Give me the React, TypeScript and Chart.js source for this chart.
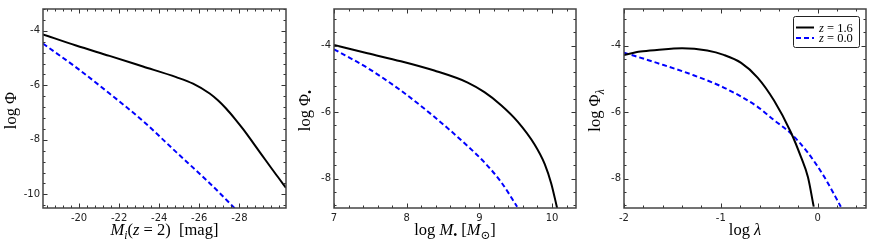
import React, { useEffect, useRef } from 'react';
import { Chart, registerables } from 'chart.js';

Chart.register(...registerables);

// ---------- Panel 1: luminosity function ----------
const magZ16 = [-18.2, -19.85, -21.52, -23.19, -24.85, -25.69, -26.52, -26.93, -27.35, -27.77, -28.19, -29.02, -29.85, -30.33];
const phiMagZ16 = [-4.13, -4.54, -4.92, -5.31, -5.7, -5.94, -6.3, -6.55, -6.86, -7.22, -7.61, -8.45, -9.29, -9.76];
const magZ00 = [-18.2, -19.85, -21.52, -23.19, -24.85, -26.52, -27.8];
const phiMagZ00 = [-4.47, -5.34, -6.3, -7.31, -8.45, -9.59, -10.53];
const p1XTicks = [-20, -22, -24, -26, -28];
const p1YTicks = [-4, -6, -8, -10];

// ---------- Panel 2: black hole mass function ----------
const massZ16 = [7.0, 7.46, 7.92, 8.38, 8.84, 9.07, 9.3, 9.53, 9.76, 9.9, 9.99, 10.07];
const phiMassZ16 = [-3.98, -4.23, -4.47, -4.75, -5.11, -5.4, -5.79, -6.29, -6.97, -7.56, -8.15, -8.88];
const massZ00 = [7.0, 7.46, 7.92, 8.38, 8.84, 9.07, 9.3, 9.52];
const phiMassZ00 = [-4.11, -4.67, -5.35, -6.14, -7.02, -7.51, -8.1, -8.84];
const p2XTicks = [7, 8, 9, 10];
const p2YTicks = [-4, -6, -8];

// ---------- Panel 3: Eddington ratio distribution ----------
const lamZ16 = [-2.0, -1.83, -1.66, -1.4, -1.14, -0.97, -0.79, -0.62, -0.45, -0.28, -0.17, -0.1, -0.04];
const phiLamZ16 = [-4.28, -4.18, -4.13, -4.08, -4.15, -4.28, -4.52, -4.96, -5.65, -6.58, -7.36, -7.95, -8.84];
const lamZ00 = [-2.0, -1.66, -1.31, -0.97, -0.62, -0.45, -0.28, -0.1, 0.07, 0.24];
const phiLamZ00 = [-4.21, -4.52, -4.86, -5.26, -5.84, -6.24, -6.63, -7.22, -7.95, -8.84];
const p3XTicks = [-2, -1, 0];
const p3YTicks = [-4, -6, -8];

const legendLabels = ['1.6', '0.0'];

type Seg = { t: string; it?: boolean; sub?: boolean };

const SERIF = '"Liberation Serif", "DejaVu Serif", serif';
const TITLE_SIZE = 16.5;

function segFont(s: Seg, size: number) {
  const sz = s.sub ? size * 0.7 : size;
  return `${s.it ? 'italic ' : ''}${sz}px ${SERIF}`;
}

function drawRich(ctx: CanvasRenderingContext2D, segs: Seg[], x: number, y: number, size: number, align: 'center' | 'left', rotate = false) {
  ctx.save();
  ctx.translate(x, y);
  if (rotate) ctx.rotate(-Math.PI / 2);
  let total = 0;
  const widths = segs.map((s) => {
    ctx.font = segFont(s, size);
    const w = ctx.measureText(s.t).width;
    total += w;
    return w;
  });
  let cx = align === 'center' ? -total / 2 : 0;
  ctx.textBaseline = 'alphabetic';
  ctx.textAlign = 'left';
  ctx.fillStyle = '#000';
  segs.forEach((s, i) => {
    ctx.font = segFont(s, size);
    ctx.fillText(s.t, cx, s.sub ? size * 0.22 : 0);
    cx += widths[i];
  });
  ctx.restore();
}

function minorValues(min: number, max: number, step: number) {
  const out: number[] = [];
  const k0 = Math.ceil(min / step - 1e-9);
  const k1 = Math.floor(max / step + 1e-9);
  for (let k = k0; k <= k1; k++) out.push(k * step);
  return out;
}

type PanelCfg = {
  left: number;
  width: number;
  yAxisWidth: number;
  padRight: number;
  xMin: number;
  xMax: number;
  reverse: boolean;
  yMin: number;
  yMax: number;
  xTicks: number[];
  yTicks: number[];
  xMinor: number;
  yMinor: number;
  solidX: number[];
  solidY: number[];
  dashX: number[];
  dashY: number[];
  xTitle: Seg[];
  yTitle: Seg[];
  yTitleX: number;
  legend: boolean;
};

const panels: PanelCfg[] = [
  {
    left: 0, width: 290, yAxisWidth: 43, padRight: 4,
    xMin: -30.33, xMax: -18.2, reverse: true, yMin: -10.5, yMax: -3.2,
    xTicks: p1XTicks, yTicks: p1YTicks, xMinor: 0.4, yMinor: 0.4,
    solidX: magZ16, solidY: phiMagZ16, dashX: magZ00, dashY: phiMagZ00,
    xTitle: [{ t: 'M', it: true }, { t: 'i', it: true, sub: true }, { t: '(' }, { t: 'z', it: true }, { t: ' = 2)' }, { t: '  [mag]' }],
    yTitle: [{ t: 'log ' }, { t: 'Φ' }],
    yTitleX: 16, legend: false,
  },
  {
    left: 290, width: 290, yAxisWidth: 44, padRight: 4,
    xMin: 7, xMax: 10.33, reverse: false, yMin: -8.88, yMax: -2.9,
    xTicks: p2XTicks, yTicks: p2YTicks, xMinor: 0.2, yMinor: 0.4,
    solidX: massZ16, solidY: phiMassZ16, dashX: massZ00, dashY: phiMassZ00,
    xTitle: [{ t: 'log ' }, { t: 'M', it: true }, { t: '•', sub: true }, { t: ' [' }, { t: 'M', it: true }, { t: '⊙', sub: true }, { t: ']' }],
    yTitle: [{ t: 'log ' }, { t: 'Φ' }, { t: '•', sub: true }],
    yTitleX: 20, legend: false,
  },
  {
    left: 580, width: 292, yAxisWidth: 44, padRight: 6,
    xMin: -2, xMax: 0.5, reverse: false, yMin: -8.88, yMax: -2.9,
    xTicks: p3XTicks, yTicks: p3YTicks, xMinor: 0.2, yMinor: 0.4,
    solidX: lamZ16, solidY: phiLamZ16, dashX: lamZ00, dashY: phiLamZ00,
    xTitle: [{ t: 'log ' }, { t: 'λ', it: true }],
    yTitle: [{ t: 'log ' }, { t: 'Φ' }, { t: 'λ', it: true, sub: true }],
    yTitleX: 20, legend: true,
  },
];

function makeDecor(p: PanelCfg) {
  return {
    id: 'decor',
    afterDraw(chart: any) {
      const { ctx, chartArea: a, scales } = chart;
      const xs = scales.x;
      const ys = scales.y;
      ctx.save();
      ctx.strokeStyle = '#333';
      ctx.lineWidth = 1;
      const seg = (x1: number, y1: number, x2: number, y2: number) => {
        ctx.beginPath();
        ctx.moveTo(x1, y1);
        ctx.lineTo(x2, y2);
        ctx.stroke();
      };
      const xTick = (v: number, len: number) => {
        const px = Math.round(xs.getPixelForValue(v)) + 0.5;
        seg(px, a.bottom, px, a.bottom - len);
        seg(px, a.top, px, a.top + len);
      };
      const yTick = (v: number, len: number) => {
        const py = Math.round(ys.getPixelForValue(v)) + 0.5;
        seg(a.left, py, a.left + len, py);
        seg(a.right, py, a.right - len, py);
      };
      const lo = Math.min(p.xMin, p.xMax), hi = Math.max(p.xMin, p.xMax);
      minorValues(lo, hi, p.xMinor).forEach((v) => xTick(v, 2.5));
      minorValues(p.yMin, p.yMax, p.yMinor).forEach((v) => yTick(v, 2.5));
      p.xTicks.forEach((v) => xTick(v, 4.5));
      p.yTicks.forEach((v) => yTick(v, 4.5));
      // frame
      ctx.strokeStyle = '#444';
      ctx.lineWidth = 1.5;
      ctx.strokeRect(a.left, a.top, a.right - a.left, a.bottom - a.top);
      ctx.restore();

      // titles
      drawRich(ctx, p.xTitle, (a.left + a.right) / 2, 235, TITLE_SIZE, 'center');
      drawRich(ctx, p.yTitle, p.yTitleX, (a.top + a.bottom) / 2 + 2, TITLE_SIZE, 'center', true);

      if (p.legend) {
        const bx = a.right - 73;
        const by = a.top + 7;
        const bw = 66;
        const bh = 31;
        ctx.save();
        ctx.fillStyle = '#fff';
        ctx.strokeStyle = '#222';
        ctx.lineWidth = 1;
        ctx.beginPath();
        (ctx as any).roundRect(bx + 0.5, by + 0.5, bw, bh, 2);
        ctx.fill();
        ctx.stroke();
        const rows = [by + 11.5, by + 22];
        const styles = [
          { c: '#000', d: [] as number[] },
          { c: '#0000ff', d: [5, 3] },
        ];
        rows.forEach((ry, i) => {
          ctx.strokeStyle = styles[i].c;
          ctx.lineWidth = 2;
          ctx.setLineDash(styles[i].d);
          seg(bx + 3, ry, bx + 21, ry);
          ctx.setLineDash([]);
          drawRich(ctx, [{ t: 'z', it: true }, { t: ' = ' + legendLabels[i] }], bx + 26, ry + 4, 12.5, 'left');
        });
        ctx.restore();
      }
    },
  };
}

function Panel({ p }: { p: PanelCfg }) {
  const ref = useRef<HTMLCanvasElement>(null);
  useEffect(() => {
    if (!ref.current) return;
    const tickFont = { family: '"DejaVu Sans", sans-serif', size: 10 };
    const chart = new Chart(ref.current, {
      type: 'line',
      data: {
        datasets: [
          {
            label: 'z=1.6',
            data: p.solidX.map((x, i) => ({ x, y: p.solidY[i] })),
            borderColor: '#000',
            borderWidth: 2,
            pointRadius: 0,
            cubicInterpolationMode: 'monotone',
            fill: false,
          },
          {
            label: 'z=0.0',
            data: p.dashX.map((x, i) => ({ x, y: p.dashY[i] })),
            borderColor: '#0000ff',
            borderWidth: 2,
            borderDash: [5, 3],
            pointRadius: 0,
            cubicInterpolationMode: 'monotone',
            fill: false,
          },
        ],
      },
      options: {
        animation: false,
        responsive: false,
        devicePixelRatio: 1,
        layout: { padding: { top: 5, right: p.padRight, left: 0, bottom: 0 } },
        plugins: { legend: { display: false }, tooltip: { enabled: false } },
        scales: {
          x: {
            type: 'linear',
            min: p.xMin,
            max: p.xMax,
            reverse: p.reverse,
            grid: { display: false, drawTicks: false },
            border: { display: false },
            afterBuildTicks: (axis: any) => {
              axis.ticks = p.xTicks.map((v) => ({ value: v }));
            },
            afterFit: (axis: any) => {
              axis.height = 40;
            },
            ticks: {
              font: tickFont,
              color: '#222',
              padding: 4,
              maxRotation: 0,
              autoSkip: false,
              callback: (v: any) => String(v),
            },
          },
          y: {
            type: 'linear',
            min: p.yMin,
            max: p.yMax,
            grid: { display: false, drawTicks: false },
            border: { display: false },
            afterBuildTicks: (axis: any) => {
              axis.ticks = p.yTicks.map((v) => ({ value: v }));
            },
            afterFit: (axis: any) => {
              axis.width = p.yAxisWidth;
            },
            ticks: {
              font: tickFont,
              color: '#222',
              padding: 3,
              autoSkip: false,
              callback: (v: any) => String(v),
            },
          },
        },
      } as any,
      plugins: [makeDecor(p)],
    });
    return () => chart.destroy();
  }, [p]);
  return (
    <div style={{ position: 'absolute', left: p.left, top: 0, width: p.width, height: 248 }}>
      <canvas ref={ref} width={p.width} height={248} style={{ width: p.width, height: 248, display: 'block' }} />
    </div>
  );
}

export default function App() {
  return (
    <div style={{ position: 'absolute', left: 0, top: 0, width: 872, height: 248, background: '#fff', overflow: 'hidden' }}>
      {panels.map((p, i) => (
        <Panel key={i} p={p} />
      ))}
    </div>
  );
}
